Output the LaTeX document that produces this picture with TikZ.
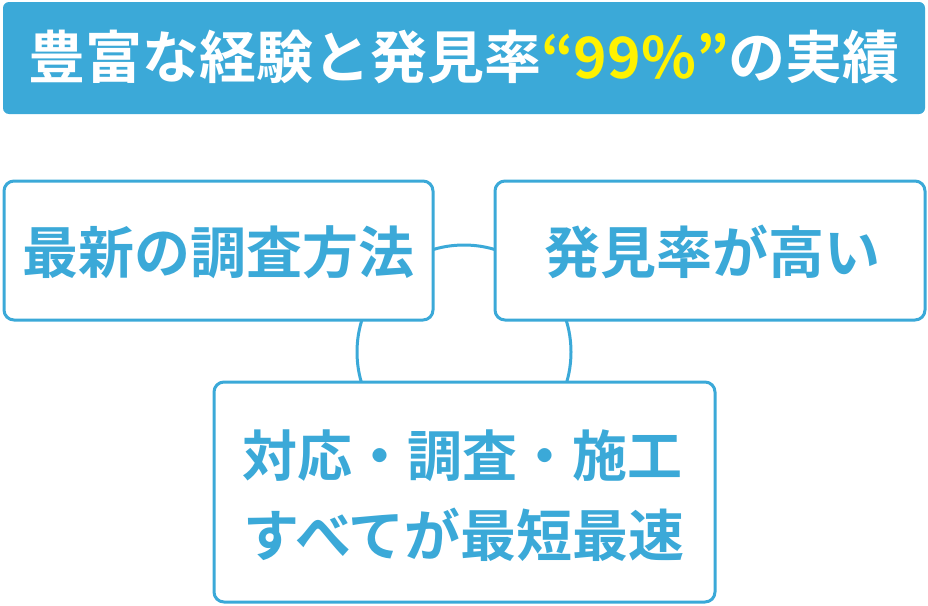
\documentclass[tikz,border=0pt]{standalone}
\usepackage{fontspec}
\setmainfont{Noto Sans CJK JP}[BoldFont={Noto Sans CJK JP Bold}]
\definecolor{skyb}{RGB}{59,169,216}
\definecolor{yel}{RGB}{255,242,0}
\tikzset{
  cbox/.style={draw=skyb, line width=3pt, fill=white, rounded corners=10pt},
  btext/.style={text=skyb, font=\bfseries\fontsize{56}{66}\selectfont, align=center, inner sep=0pt},
}
\begin{document}
\begin{tikzpicture}[x=1pt,y=-1pt]
\useasboundingbox (0,0) rectangle (928,605);
% title
\fill[skyb, rounded corners=6pt] (3,2) rectangle (925,114);
\node[inner sep=0pt, text=white, font=\bfseries\fontsize{57}{66}\selectfont] (title) at (464,57)
  {豊富な経験と発見率\textcolor{yel}{“99\%”}の実績};
% ring behind boxes
\draw[skyb, line width=3pt] (464,352) circle (107);
% boxes
\draw[cbox] (4,181) rectangle (433,320);
\draw[cbox] (495,181) rectangle (925,320);
\draw[cbox] (214,382) rectangle (715,602);
\node[btext] (t1) at (218,252) {最新の調査方法};
\node[btext] (t2) at (712,252) {発見率が高い};
\node[btext, font=\bfseries\fontsize{55}{66}\selectfont] (t3a) at (462,456) {対応・調査・施工};
\node[btext, font=\bfseries\fontsize{56}{66}\selectfont] (t3b) at (464,535) {すべてが最短最速};
\end{tikzpicture}
\end{document}
